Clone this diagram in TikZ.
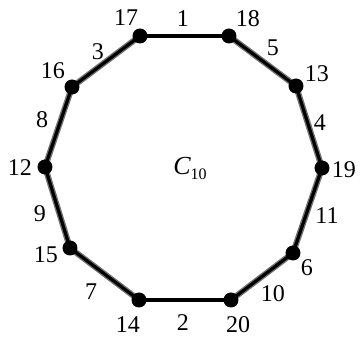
\documentclass[tikz,border=0pt]{standalone}
\usepackage{fontspec}
\setmainfont{Liberation Serif}
\begin{document}
\begin{tikzpicture}[x=1pt,y=-1pt,
  vert/.style={circle,fill=black,inner sep=0pt,minimum size=15pt},
  lab/.style={font=\fontsize{24}{26}\selectfont,inner sep=0pt},
  edgehalo/.style={draw=black!55,line width=6pt},
  edgecore/.style={draw=black,line width=3.2pt},
  flatedge/.style={draw=black,line width=4.5pt}]
\useasboundingbox (0,0) rectangle (360,339);
\coordinate (p17) at (140,36);
\coordinate (p18) at (229,36);
\coordinate (p13) at (296,86);
\coordinate (p19) at (322,168);
\coordinate (p6) at (293,253);
\coordinate (p20) at (231,300);
\coordinate (p14) at (139,300);
\coordinate (p15) at (70,248);
\coordinate (p12) at (45,167);
\coordinate (p16) at (72,87);
% slanted edges
\foreach \a/\b in {p18/p13,p13/p19,p19/p6,p6/p20,p14/p15,p15/p12,p12/p16,p16/p17}{
  \path[edgehalo] (\a) -- (\b);
  \path[edgecore] (\a) -- (\b);
}
\path[flatedge] (p17) -- (p18);
\path[flatedge] (p14) -- (p20);
\foreach \p in {p17,p18,p13,p19,p6,p20,p14,p15,p12,p16}{
  \node[vert] (v\p) at (\p) {};
}
% vertex labels
\node[lab] (l17) at (126,18) {17};
\node[lab] (l18) at (248,19) {18};
\node[lab] (l13) at (317,74) {13};
\node[lab] (l19) at (344,170) {19};
\node[lab] (l6) at (307,268) {6};
\node[lab] (l20) at (238,325) {20};
\node[lab] (l14) at (128,325) {14};
\node[lab] (l15) at (46,255) {15};
\node[lab] (l12) at (20,168) {12};
\node[lab] (l16) at (53,71) {16};
% edge labels
\node[lab] (e1) at (183,19) {1};
\node[lab] (e5) at (273,48) {5};
\node[lab] (e4) at (320,123) {4};
\node[lab] (e11) at (327,216) {11};
\node[lab] (e10) at (273,294) {10};
\node[lab] (e2) at (183,323) {2};
\node[lab] (e7) at (91,292) {7};
\node[lab] (e9) at (40,214) {9};
\node[lab] (e8) at (42,120) {8};
\node[lab] (e3) at (98,52) {3};
\node[lab] (c) at (190,168) {\fontsize{26}{28}\selectfont\itshape C\upshape\raisebox{-5pt}{\fontsize{16}{18}\selectfont 10}};
\end{tikzpicture}
\end{document}
